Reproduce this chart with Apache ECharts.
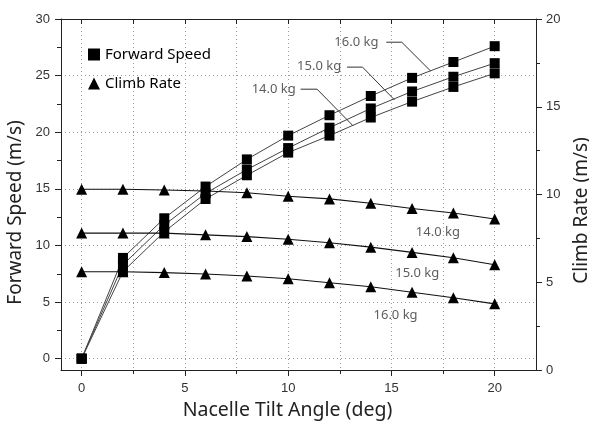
<!DOCTYPE html>
<html><head><meta charset="utf-8">
<script src="https://cdn.jsdelivr.net/npm/echarts@6/dist/echarts.min.js"></script>
<style>html,body{margin:0;padding:0;background:#fff}#c{width:589px;height:425px}</style>
</head><body><div id="c"></div>
<script>
const tiltAngles = [0, 2, 4, 6, 8, 10, 12, 14, 16, 18, 20];
const speed14 = [0, 7.7, 11.2, 14.1, 16.2, 18.2, 19.7, 21.3, 22.7, 24.0, 25.2];
const speed15 = [0, 8.3, 11.8, 14.6, 16.7, 18.6, 20.4, 22.1, 23.6, 24.9, 26.1];
const speed16 = [0, 8.9, 12.4, 15.2, 17.6, 19.7, 21.5, 23.2, 24.8, 26.2, 27.6];
const climb14 = [10.3, 10.3, 10.26, 10.2, 10.1, 9.9, 9.75, 9.5, 9.2, 8.95, 8.6];
const climb15 = [7.8, 7.8, 7.8, 7.7, 7.6, 7.45, 7.25, 7.0, 6.7, 6.4, 6.0];
const climb16 = [5.6, 5.6, 5.55, 5.47, 5.36, 5.2, 4.97, 4.74, 4.43, 4.12, 3.77];
const xMajorTicks = [0, 5, 10, 15, 20];
const xMinorTicks = [2.5, 7.5, 12.5, 17.5];
const xAllTicks = [0, 2.5, 5, 7.5, 10, 12.5, 15, 17.5, 20];
const ySpeedTicks = [0, 5, 10, 15, 20, 25, 30];
const ySpeedMinor = [2.5, 7.5, 12.5, 17.5, 22.5, 27.5];
// annotation labels (data coordinates)
const speedLabels = [
  {name: '16.0 kg', at: [13.3, 27.95], leader: [[14.75, 27.95], [15.5, 27.95], [16.9, 25.4]]},
  {name: '15.0 kg', at: [11.5, 25.85], leader: [[12.85, 25.75], [13.6, 25.75], [15.15, 22.85]]},
  {name: '14.0 kg', at: [9.3, 23.8], leader: [[10.6, 23.8], [11.4, 23.8], [13.15, 20.55]]}
];
const climbLabels = [
  {name: '14.0 kg', at: [17.25, 7.86]},
  {name: '15.0 kg', at: [16.25, 5.53]},
  {name: '16.0 kg', at: [15.2, 3.13]}
];

const FONT = 'Noto Sans';
const TICKFONT = 'Liberation Sans';
const gridLine = {show: true, lineStyle: {color: '#9a9a9a', type: [1, 3], width: 1}};
const pairs = (ys) => tiltAngles.map((x, i) => [x, ys[i]]);

const speedSeries = [speed14, speed15, speed16].map(d => ({
  name: 'Forward Speed', type: 'line', xAxisIndex: 0, yAxisIndex: 0,
  data: pairs(d), symbol: 'rect', symbolSize: 10,
  itemStyle: {color: '#000'}, lineStyle: {color: '#444', width: 1}, z: 5
}));
const climbSeries = [climb14, climb15, climb16].map(d => ({
  name: 'Climb Rate', type: 'line', xAxisIndex: 0, yAxisIndex: 2,
  data: pairs(d), symbol: 'triangle', symbolSize: 11,
  itemStyle: {color: '#000'}, lineStyle: {color: '#111', width: 1.1}, z: 5
}));
const leaderSeries = speedLabels.map(l => ({
  name: 'leader', type: 'line', xAxisIndex: 0, yAxisIndex: 0,
  data: l.leader, symbol: 'none', lineStyle: {color: '#333', width: 1}, z: 4, silent: true
}));
const textSeries = [
  {type: 'scatter', xAxisIndex: 0, yAxisIndex: 0, symbolSize: 0,
   data: speedLabels.map(l => ({name: l.name, value: l.at})),
   label: {show: true, position: 'inside', formatter: '{b}', color: '#333', fontSize: 13, fontFamily: FONT}},
  {type: 'scatter', xAxisIndex: 0, yAxisIndex: 2, symbolSize: 0,
   data: climbLabels.map(l => ({name: l.name, value: l.at})),
   label: {show: true, position: 'inside', formatter: '{b}', color: '#333', fontSize: 13, fontFamily: FONT}}
];

const chart = echarts.init(document.getElementById('c'), null, {renderer: 'canvas'});
chart.setOption({
  animation: false,
  backgroundColor: '#fff',
  grid: {left: 61, right: 53, top: 19, bottom: 55, containLabel: false, outerBoundsMode: 'none'},
  legend: {
    orient: 'vertical', left: 83, top: 42, itemGap: 14, itemWidth: 12, itemHeight: 12,
    textStyle: {fontSize: 15, fontFamily: FONT, color: '#000'},
    data: [{name: 'Forward Speed', icon: 'rect'}, {name: 'Climb Rate', icon: 'triangle'}],
    itemStyle: {color: '#000'}, selectedMode: false
  },
  xAxis: [
    {type: 'value', position: 'bottom', min: -1, max: 22,
     name: 'Nacelle Tilt Angle (deg)', nameLocation: 'middle', nameGap: 30,
     nameTextStyle: {fontSize: 19.5, fontFamily: FONT, color: '#222', padding: [0, 22, 0, 0]},
     axisLine: {show: true, onZero: false, lineStyle: {color: '#222', width: 1}},
     axisTick: {show: true, customValues: xMajorTicks, length: 6, lineStyle: {color: '#222'}},
     axisLabel: {customValues: xMajorTicks, fontSize: 13, fontFamily: TICKFONT, color: '#333', margin: 12},
     splitLine: gridLine},
    {type: 'value', position: 'bottom', min: -1, max: 22,
     axisLine: {show: false, onZero: false},
     axisTick: {show: true, customValues: xMinorTicks, length: 4, lineStyle: {color: '#222'}},
     axisLabel: {show: false, customValues: xMinorTicks},
     splitLine: gridLine},
    {type: 'value', position: 'top', min: -1, max: 22,
     axisLine: {show: true, onZero: false, lineStyle: {color: '#222', width: 1}},
     axisTick: {show: true, inside: true, customValues: xAllTicks, length: 5, lineStyle: {color: '#222'}},
     axisLabel: {show: false, customValues: xAllTicks},
     splitLine: {show: false}}
  ],
  yAxis: [
    {type: 'value', position: 'left', min: -1, max: 30,
     name: 'Forward Speed (m/s)', nameLocation: 'middle', nameGap: 34,
     nameTextStyle: {fontSize: 19, fontFamily: FONT, color: '#222', padding: [0, 36, 0, 0]},
     axisLine: {show: true, onZero: false, lineStyle: {color: '#222', width: 1}},
     axisTick: {show: true, customValues: ySpeedTicks, length: 6, lineStyle: {color: '#222'}},
     axisLabel: {customValues: ySpeedTicks, fontSize: 13, fontFamily: TICKFONT, color: '#333', margin: 11},
     splitLine: gridLine},
    {type: 'value', position: 'left', min: -1, max: 30,
     axisLine: {show: false, onZero: false},
     axisTick: {show: true, customValues: ySpeedMinor, length: 4, lineStyle: {color: '#222'}},
     axisLabel: {show: false, customValues: ySpeedMinor},
     splitLine: {show: false}},
    {type: 'value', position: 'right', min: 0, max: 20, interval: 5,
     name: 'Climb Rate (m/s)', nameLocation: 'middle', nameGap: 36,
     nameTextStyle: {fontSize: 19, fontFamily: FONT, color: '#222', padding: [0, 32, 0, 0]},
     axisLine: {show: true, onZero: false, lineStyle: {color: '#222', width: 1}},
     axisTick: {show: true, length: 6, lineStyle: {color: '#222'}},
     minorTick: {show: true, splitNumber: 2, length: 4, lineStyle: {color: '#222'}},
     axisLabel: {fontSize: 13, fontFamily: TICKFONT, color: '#333', margin: 10},
     splitLine: {show: false}}
  ],
  series: [...speedSeries, ...climbSeries, ...leaderSeries, ...textSeries]
});
</script></body></html>
